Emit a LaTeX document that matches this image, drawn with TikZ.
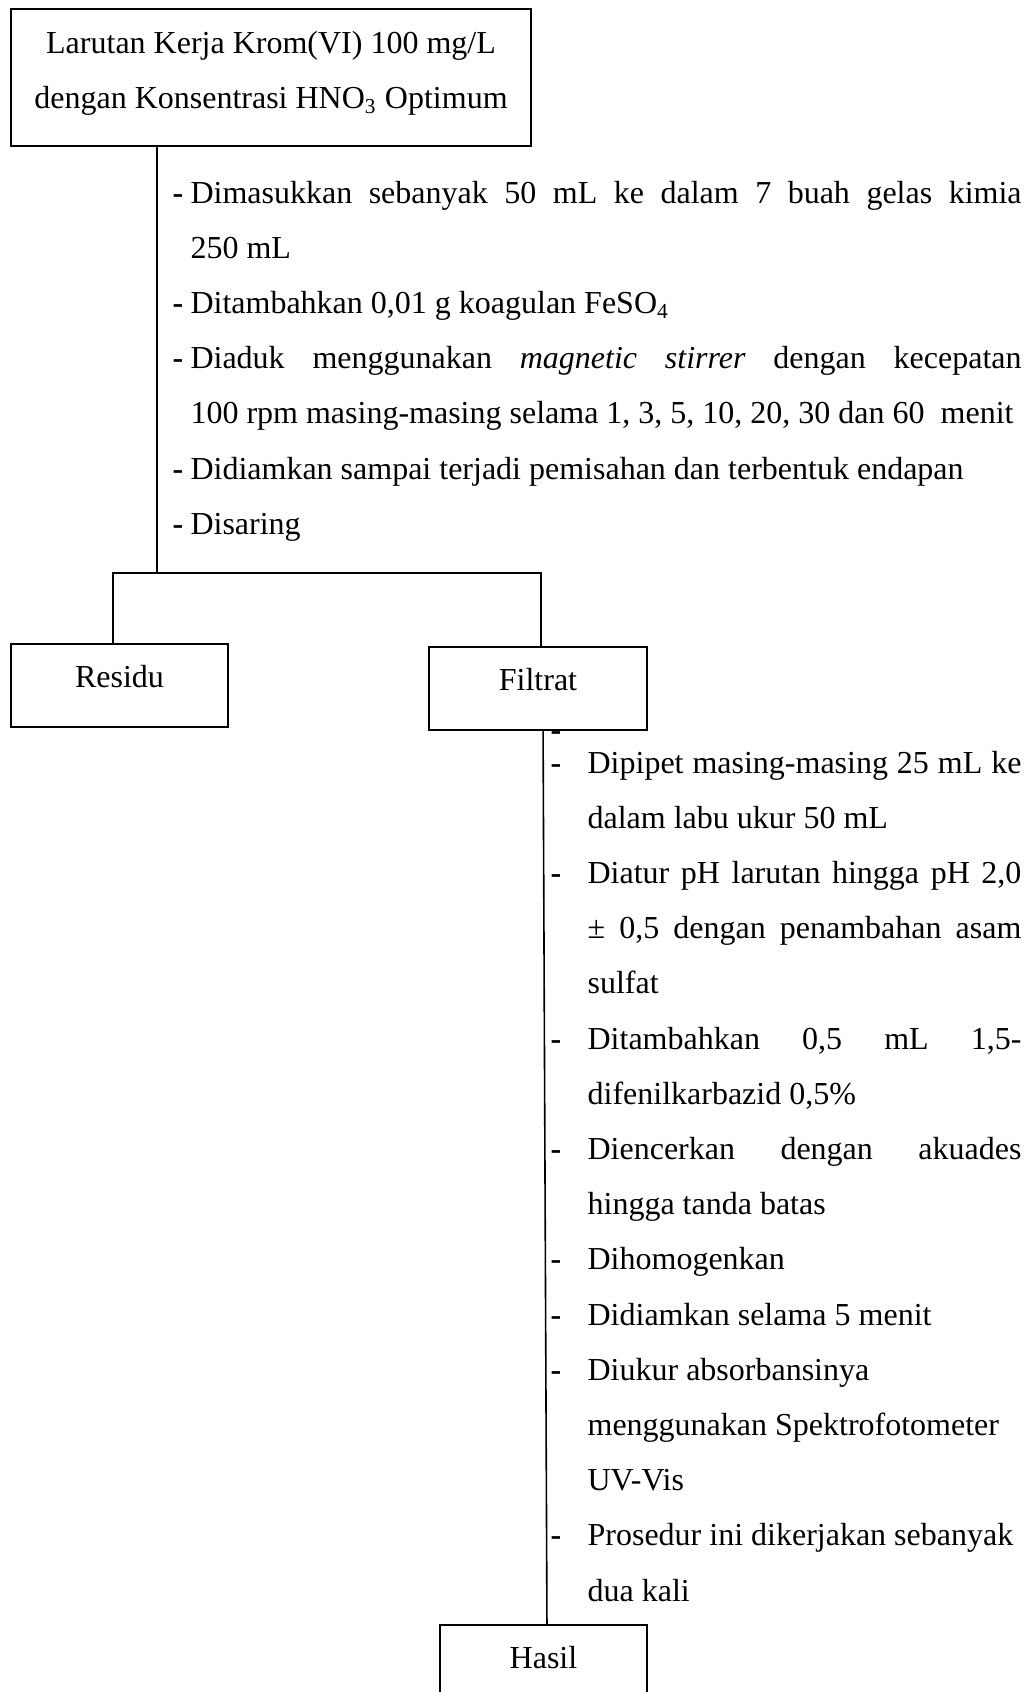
\documentclass[tikz,border=0pt]{standalone}
\usepackage{fontspec}
\setmainfont{Liberation Serif}
\newcommand{\butir}[1]{\hangindent=#1\hangafter=1\noindent\makebox[#1][l]{\textbf{-}}}

\begin{document}
\begin{tikzpicture}[x=0.375pt,y=-0.375pt,
  kotak/.style={draw,line width=0.6pt,inner sep=0pt,font=\fontsize{12}{20.7}\selectfont},
  daftar/.style={anchor=base west,inner sep=0pt,align=justify,font=\fontsize{12}{20.7}\selectfont}]
\useasboundingbox (0,0) rectangle (1032,1692);
\node[kotak,minimum width=195pt,minimum height=51.4pt,align=center] (L) at (271,77.5) {Larutan Kerja Krom(VI) 100 mg/L\\dengan Konsentrasi HNO\textsubscript{3} Optimum\rule[-6pt]{0pt}{6pt}};
\node[daftar,text width=318.4pt] (P) at (172,203) {\hyphenpenalty=10000\tolerance=9999\hbadness=10000
\butir{6.75pt}Dimasukkan sebanyak 50 mL ke dalam 7 buah gelas kimia\linebreak 250 mL\par
\butir{6.75pt}Ditambahkan 0,01 g koagulan FeSO\textsubscript{4}\par
\butir{6.75pt}Diaduk menggunakan \textit{magnetic stirrer} dengan kecepatan\linebreak 100 rpm masing-masing selama 1, 3, 5, 10, 20, 30 dan 60~ menit\par
\butir{6.75pt}Didiamkan sampai terjadi pemisahan dan terbentuk endapan\par
\butir{6.75pt}Disaring\par};
\coordinate (S) at (157,573);
\coordinate (S1) at (113,573);
\coordinate (S2) at (541,573);
\node[kotak,minimum width=81.4pt,minimum height=31.1pt,text height=8.5pt,text depth=7pt] (R) at (119.5,685.5) {Residu};
\node[kotak,minimum width=81.75pt,minimum height=31.1pt,text height=8.5pt,text depth=7pt] (F) at (538,688.5) {Filtrat};
\node[anchor=base west,inner sep=0pt,font=\fontsize{12}{20.7}\selectfont] (D) at (550,740) {\textbf{-}};
\node[daftar,text width=176.6pt] (Q) at (550,773) {\hyphenpenalty=10000\tolerance=9999\hbadness=10000
\butir{13.9pt}Dipipet masing-masing 25 mL ke\linebreak dalam labu ukur 50 mL\par
\butir{13.9pt}Diatur pH larutan hingga pH 2,0\linebreak ± 0,5 dengan penambahan asam\linebreak sulfat\par
\butir{13.9pt}Ditambahkan 0,5 mL 1,5-\linebreak difenilkarbazid 0,5\%\par
\butir{13.9pt}Diencerkan dengan akuades\linebreak hingga tanda batas\par
\butir{13.9pt}Dihomogenkan\par
\butir{13.9pt}Didiamkan selama 5 menit\par
\butir{13.9pt}Diukur absorbansinya\newline menggunakan Spektrofotometer\newline UV-Vis\par
\butir{13.9pt}Prosedur ini dikerjakan sebanyak\newline dua kali\par};
\node[kotak,minimum width=77.6pt,minimum height=31.1pt,text height=8.5pt,text depth=7pt] (H) at (543.5,1666.5) {Hasil};
\draw[line width=0.6pt] (L.south -| S) -- (S);
\draw[line width=0.6pt] (R.north -| S1) -- (S1) -- (S2) -- (S2 |- F.north);
\draw[line width=0.6pt] ([xshift=1.9pt]F.south) -- ([xshift=1.3pt]H.north);
\end{tikzpicture}
\end{document}
